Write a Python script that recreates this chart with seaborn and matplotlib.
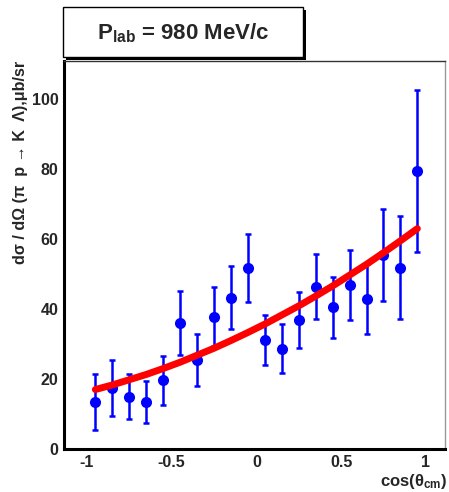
import matplotlib
matplotlib.use("Agg")
import matplotlib.pyplot as plt
from matplotlib.patches import Rectangle
from matplotlib.ticker import MultipleLocator
import seaborn as sns
import pandas as pd

# Measured differential cross section, pi- p -> K0 Lambda, P_lab = 980 MeV/c
cos_theta = [-0.95, -0.85, -0.75, -0.65, -0.55, -0.45, -0.35, -0.25, -0.15, -0.05,
             0.05, 0.15, 0.25, 0.35, 0.45, 0.55, 0.65, 0.75, 0.85, 0.95]
dsigma = [13.5, 17.5, 15.0, 13.3, 19.6, 36.1, 25.5, 37.8, 43.2, 51.7,
          31.1, 28.7, 37.0, 46.4, 40.5, 47.0, 42.8, 55.5, 51.8, 79.4]
dsigma_err = [8.0, 8.0, 6.5, 6.0, 7.0, 9.1, 7.5, 8.5, 9.0, 9.8,
              7.1, 7.0, 8.0, 9.2, 8.8, 10.0, 10.0, 13.2, 14.7, 23.2]

# Fitted angular distribution
fit_cos = [-0.95, -0.85, -0.75, -0.65, -0.55, -0.45, -0.35, -0.25, -0.15, -0.05,
           0.05, 0.15, 0.25, 0.35, 0.45, 0.55, 0.65, 0.75, 0.85, 0.95]
fit_val = [17.0, 18.3, 19.8, 21.3, 23.0, 24.8, 26.8, 28.8, 31.0, 33.3,
           35.7, 38.3, 40.9, 43.7, 46.6, 49.7, 52.8, 56.1, 59.5, 63.0]

data = pd.DataFrame({"cos": cos_theta, "ds": dsigma, "err": dsigma_err})
fit = pd.DataFrame({"cos": fit_cos, "ds": fit_val})

sns.set_style("white")
plt.rcParams["font.family"] = ["Liberation Sans", "DejaVu Sans"]
plt.rcParams["font.weight"] = "bold"
plt.rcParams["mathtext.default"] = "regular"

W, H = 449, 492
fig = plt.figure(figsize=(W / 100, H / 100), dpi=100)
fig.patch.set_facecolor("white")
ax = fig.add_axes([64 / W, 1 - 449 / H, (445 - 64) / W, (449 - 61) / H])

blue = "#0000ff"
ax.errorbar(data["cos"], data["ds"], yerr=data["err"], fmt="none",
            ecolor=blue, elinewidth=1.8, capsize=2.5, capthick=1.8, zorder=2)
sns.scatterplot(data=data, x="cos", y="ds", ax=ax, color=blue, s=64,
                edgecolor=blue, linewidth=0, zorder=3)
sns.lineplot(data=fit, x="cos", y="ds", ax=ax, color="#ff0000", linewidth=5,
             zorder=4, estimator=None, sort=True)

ax.set_xlim(-1.135, 1.113)
ax.set_ylim(0, 110.9)

ax.xaxis.set_major_locator(MultipleLocator(0.5))
ax.xaxis.set_minor_locator(MultipleLocator(0.1))
ax.yaxis.set_major_locator(MultipleLocator(20))
ax.yaxis.set_minor_locator(MultipleLocator(5))
ax.tick_params(which="both", direction="in", top=False, right=False,
               width=1.6, color="black", labelsize=11.5)
ax.tick_params(which="major", length=9, pad=4)
ax.tick_params(which="minor", length=4.5)
ax.set_xticks([-1, -0.5, 0, 0.5, 1])
ax.set_xticklabels(["-1", "-0.5", "0", "0.5", "1"])
for lab in ax.get_xticklabels() + ax.get_yticklabels():
    lab.set_fontweight("bold")

for side in ("left", "bottom"):
    ax.spines[side].set_linewidth(2.2)
    ax.spines[side].set_color("black")
ax.spines["top"].set_linewidth(1.0)
ax.spines["top"].set_color("#333333")
ax.spines["right"].set_linewidth(1.0)
ax.spines["right"].set_color("#999999")

ax.set_xlabel("cos(θ$_{cm}$)", fontsize=12, fontweight="bold", loc="right")
ax.xaxis.set_label_coords(1.005, -0.06)
ax.set_ylabel("dσ / dΩ (π  p → K  Λ),μb/sr", fontsize=11.6,
              fontweight="bold", loc="top")
ax.yaxis.set_label_coords(-0.095, 1.0)

# Title box with drop shadow
bx0, by0, bx1, by1 = 63, 7, 303, 57
off = 3
fig.patches.append(Rectangle(((bx0 + off) / W, 1 - (by1 + off) / H),
                             (bx1 - bx0) / W, (by1 - by0) / H,
                             transform=fig.transFigure, facecolor="black",
                             edgecolor="black", linewidth=0, zorder=5))
fig.patches.append(Rectangle((bx0 / W, 1 - by1 / H),
                             (bx1 - bx0) / W, (by1 - by0) / H,
                             transform=fig.transFigure, facecolor="white",
                             edgecolor="black", linewidth=1.0, zorder=6))
fig.text(183 / W, 1 - 33 / H, "P$_{lab}$ = 980 MeV/c", fontsize=16,
         fontweight="bold", ha="center", va="center", zorder=7)

fig.savefig("out.png", dpi=100, facecolor="white")
